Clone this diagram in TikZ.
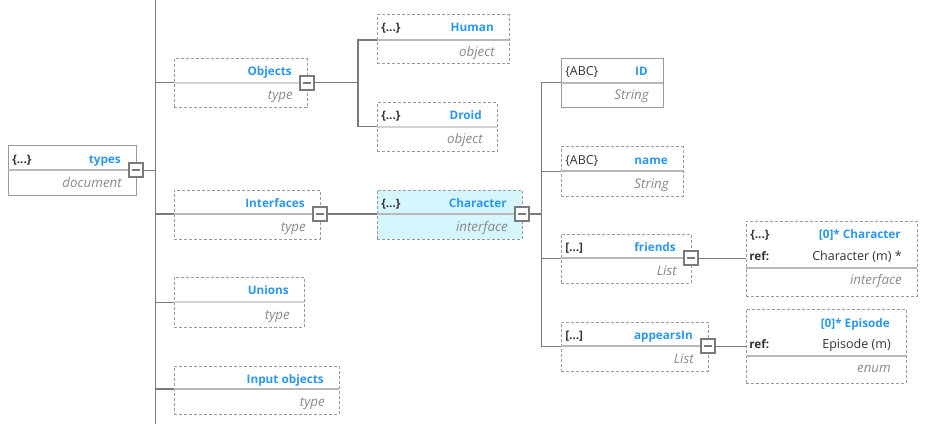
\documentclass[tikz,border=0pt]{standalone}
\usepackage{fontspec}
\setmainfont{Open Sans}
\usetikzlibrary{calc}
\definecolor{tblue}{HTML}{2A98F0}
\definecolor{typec}{HTML}{8A8A8A}
\definecolor{tagc}{HTML}{333333}
\definecolor{bordc}{HTML}{9A9A9A}
\definecolor{divc}{HTML}{B8B8B8}
\definecolor{divl}{HTML}{D2D2D2}
\definecolor{connc}{HTML}{7A7A7A}
\definecolor{cyanfill}{HTML}{D5F6FC}
\tikzset{
  x=0.75pt, y=-0.75pt,
  gbox/.style={draw=bordc, dash pattern=on 2.25pt off 1.5pt, line width=0.75pt, fill=white, inner sep=0, outer sep=0, anchor=north west},
  sbox/.style={draw=bordc, line width=0.75pt, fill=white, inner sep=0, outer sep=0, anchor=north west},
  hbox/.style={gbox, fill=cyanfill},
  divline/.style={draw=divc, line width=0.9pt},
  divlight/.style={draw=divl, line width=1pt},
  titletxt/.style={font=\fontsize{8.8}{10}\selectfont\bfseries, text=tblue, anchor=base east, inner sep=0},
  typetxt/.style={font=\fontsize{10}{12}\selectfont\itshape, text=typec, anchor=base east, inner sep=0},
  tagb/.style={font=\fontsize{8.8}{10}\selectfont\bfseries, text=tagc, anchor=base west, inner sep=0},
  tagn/.style={font=\fontsize{9.3}{11}\selectfont, text=tagc, anchor=base west, inner sep=0},
  reftxt/.style={font=\fontsize{9.4}{11}\selectfont, text=tagc, anchor=base east, inner sep=0},
  conn/.style={draw=connc, line width=0.75pt},
  connthick/.style={draw=connc, line width=1.5pt},
  sqr/.style={draw=connc, line width=0.9pt, fill=white, minimum size=10.5pt, inner sep=0, outer sep=0,
    path picture={\draw[connc, line width=0.9pt] ([xshift=2.2pt]path picture bounding box.west) -- ([xshift=-2.2pt]path picture bounding box.east);}},
}
% frame: name, style, x, y, w, h, divider offset, divider style
\newcommand\frm[8]{%
  \node[#2, minimum width=#5*0.75pt, minimum height=#6*0.75pt] (#1) at (#3,#4) {};
  \coordinate (#1-w) at ($(#1.north west)+(0,#7)$);
  \coordinate (#1-e) at ($(#1.north east)+(0,#7)$);
  \draw[#8] (#1-w) -- (#1-e);
}
% texts: name, tag style, tag, title, type
\newcommand\txt[5]{%
  \node[#2] (#1-tag) at ($(#1.north west)+(4,17)$) {#3};
  \node[titletxt] (#1-title) at ($(#1.north east)+(-15,17)$) {#4};
  \node[typetxt] (#1-type) at ($(#1-e)+(-14,17)$) {#5};
}
\newcommand\sq[1]{\node[sqr] (#1-sq) at (#1-e) {};}
\begin{document}
\begin{tikzpicture}
\path[fill=white] (0,0) rectangle (934,424);
\useasboundingbox (0,0) rectangle (934,424);

% frames
\frm{types}{sbox}{8}{146}{128}{49}{24}{divline}
\frm{Objects}{gbox}{174}{59}{133}{49}{24}{divlight}
\frm{Human}{gbox}{377}{15}{132}{49}{25}{divline}
\frm{Droid}{gbox}{377}{103}{120}{49}{24}{divlight}
\frm{Interfaces}{gbox}{174}{190}{146}{49}{24}{divline}
\frm{Unions}{gbox}{174}{277}{130}{50}{25}{divlight}
\frm{Input}{gbox}{174}{366}{165}{48}{23}{divline}
\frm{Character}{hbox}{377}{190}{145}{49}{24}{divline}
\frm{ID}{sbox}{561}{59}{102}{49}{24}{divline}
\frm{name}{gbox}{561}{147}{122}{49}{24}{divline}
\frm{friends}{gbox}{561}{234}{130}{49}{24}{divline}
\frm{appearsIn}{gbox}{561}{322}{147}{49}{24}{divline}
\frm{CharRef}{gbox}{746}{221}{171}{75}{47}{divline}
\frm{EpRef}{gbox}{746}{309}{160}{74}{47}{divline}

% connectors
\coordinate (trunkTop) at (155,0);
\coordinate (trunkBot) at (155,424);
\coordinate (objbus) at (358,83);
\coordinate (charbus) at (541,214);
\draw[conn] (trunkTop) -- (trunkBot);
\draw[conn] (types-e) -- (types-e -| trunkTop);
\draw[conn] (Objects-w -| trunkTop) -- (Objects-w);
\draw[connthick] (Interfaces-w -| trunkTop) -- (Interfaces-w);
\draw[conn] (Unions-w -| trunkTop) -- (Unions-w);
\draw[connthick] (Input-w -| trunkTop) -- (Input-w);
\draw[conn] (Objects-e) -- (Objects-e -| objbus);
\draw[connthick] (Human-w) -- (Human-w -| objbus) -- (Droid-w -| objbus);
\draw[conn] (Droid-w -| objbus) -- (Droid-w);
\draw[connthick] (Interfaces-e) -- (Character-w);
\draw[connthick] (Character-e) -- (charbus);
\draw[conn] (ID-w) -- (ID-w -| charbus) -- (appearsIn-w -| charbus) -- (appearsIn-w);
\draw[conn] (name-w -| charbus) -- (name-w);
\draw[conn] (friends-w -| charbus) -- (friends-w);
\draw[conn] (friends-e) -- (friends-e -| CharRef.west);
\draw[conn] (appearsIn-e) -- (appearsIn-e -| EpRef.west);

% texts
\txt{types}{tagb}{\{...\}}{types}{document}
\txt{Objects}{tagb}{}{Objects}{type}
\txt{Human}{tagb}{\{...\}}{Human}{object}
\txt{Droid}{tagb}{\{...\}}{Droid}{object}
\txt{Interfaces}{tagb}{}{Interfaces}{type}
\txt{Unions}{tagb}{}{Unions}{type}
\txt{Input}{tagb}{}{Input objects}{type}
\txt{Character}{tagb}{\{...\}}{Character}{interface}
\txt{ID}{tagn}{\{ABC\}}{ID}{String}
\txt{name}{tagn}{\{ABC\}}{name}{String}
\txt{friends}{tagb}{[...]}{friends}{List}
\txt{appearsIn}{tagb}{[...]}{appearsIn}{List}

% reference boxes
\node[tagb] (CharRef-tag) at ($(CharRef.north west)+(4,17)$) {\{...\}};
\node[titletxt] (CharRef-title) at ($(CharRef.north east)+(-16,17)$) {[0]* Character};
\node[tagb] (CharRef-ref) at ($(CharRef.north west)+(3,39)$) {ref:};
\node[reftxt] (CharRef-val) at ($(CharRef.north east)+(-15,39)$) {Character (m) *};
\node[typetxt] (CharRef-type) at ($(CharRef-e)+(-15,16)$) {interface};

\node[titletxt] (EpRef-title) at ($(EpRef.north east)+(-16,18)$) {[0]* Episode};
\node[tagb] (EpRef-ref) at ($(EpRef.north west)+(3,39)$) {ref:};
\node[reftxt] (EpRef-val) at ($(EpRef.north east)+(-15,39)$) {Episode (m)};
\node[typetxt] (EpRef-type) at ($(EpRef-e)+(-15,16)$) {enum};

% collapse squares
\sq{types}
\sq{Objects}
\sq{Interfaces}
\sq{Character}
\sq{friends}
\sq{appearsIn}
\end{tikzpicture}
\end{document}
